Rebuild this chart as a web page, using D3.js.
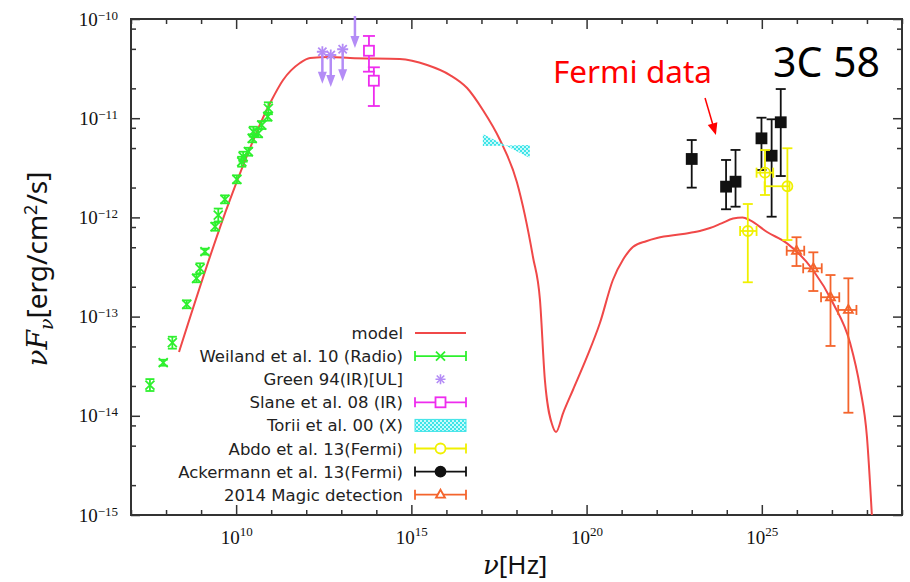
<!DOCTYPE html>
<html>
<head>
<meta charset="utf-8">
<script src="https://cdn.jsdelivr.net/npm/d3@7"></script>
<style>
  body { margin: 0; background: #fff; }
  svg { display: block; }
</style>
</head>
<body>
<svg width="910" height="582"></svg>
<script>
// all values are log10(nu [Hz]) and log10(nuF_nu [erg/cm2/s])

// model curve
const modelLogNu = [8.37, 9.82, 10.97, 11.34, 11.82, 12.11, 12.68, 13.25, 14.67, 15.45, 16.10, 16.59, 17.04, 17.53, 18.01, 18.47, 18.67, 18.81, 19.04, 19.13, 19.33, 19.61, 20.01, 20.38, 20.75, 21.05, 21.32, 21.70, 22.01, 22.75, 23.23, 23.52, 23.85, 24.18, 24.45, 24.67, 25.15, 25.72, 26.46, 27.03, 27.52, 27.80, 28.00, 28.14];
const modelLogF = [-13.357, -11.825, -10.847, -10.615, -10.444, -10.393, -10.383, -10.393, -10.403, -10.464, -10.565, -10.696, -10.917, -11.22, -11.643, -12.399, -12.833, -13.639, -14.113, -14.163, -13.972, -13.74, -13.407, -13.065, -12.631, -12.42, -12.298, -12.24, -12.208, -12.167, -12.137, -12.107, -12.06, -12.012, -12.0, -12.03, -12.147, -12.262, -12.53, -12.863, -13.266, -13.71, -14.214, -15.0];

// Weiland et al. 10 (Radio)
const radioLogNu = [7.54, 7.92, 8.18, 8.59, 8.87, 8.97, 9.11, 9.40, 9.49, 9.68, 10.02, 10.16, 10.20, 10.35, 10.46, 10.49, 10.63, 10.73, 10.90, 10.92];
const radioLogF = [-13.69, -13.465, -13.263, -12.876, -12.614, -12.513, -12.345, -12.094, -11.976, -11.818, -11.616, -11.439, -11.388, -11.338, -11.203, -11.136, -11.152, -11.069, -10.985, -10.900];
const radioErr = [0.06, 0.03, 0.06, 0.04, 0.04, 0.05, 0.03, 0.04, 0.065, 0.04, 0.04, 0.05, 0.05, 0.04, 0.04, 0.05, 0.04, 0.04, 0.04, 0.06];

// Green 94 (IR) upper limits
const greenLogNu = [12.46, 12.70, 13.04, 13.39];
const greenLogF = [-10.33, -10.363, -10.305, -9.97];

// Slane et al. 08 (IR)
const slaneLogNu = [13.79, 13.93];
const slaneLogF = [-10.32, -10.622];
const slaneLogHi = [-10.171, -10.487];
const slaneLogLo = [-10.531, -10.877];

// Torii et al. 00 (X) bow-tie: two power-law edges between nu limits
const toriiLogNu = [17.04, 18.38];
const toriiEdgeA = [-11.159, -11.401];
const toriiEdgeB = [-11.28, -11.27];

// Abdo et al. 13 (Fermi)
const abdoLogNu = [24.60, 25.09, 25.73];
const abdoLogNuLo = [24.38, 24.85, 25.08];
const abdoLogNuHi = [24.85, 25.325, 25.79];
const abdoLogF = [-12.137, -11.549, -11.686];
const abdoLogHi = [-11.865, -11.321, -11.303];
const abdoLogLo = [-12.654, -11.774, -12.228];

// Ackermann et al. 13 (Fermi)
const ackLogNu = [23.0, 23.98, 24.25, 24.99, 25.28, 25.54];
const ackLogF = [-11.411, -11.69, -11.64, -11.203, -11.378, -11.041];
const ackLogHi = [-11.22, -11.421, -11.32, -10.995, -11.011, -10.706];
const ackLogLo = [-11.70, -11.918, -11.892, -11.522, -11.993, -11.583];

// 2014 Magic detection
const magicLogNu = [25.99, 26.47, 26.96, 27.47];
const magicLogNuLo = [25.71, 26.18, 26.69, 27.18];
const magicLogNuHi = [26.21, 26.71, 27.21, 27.70];
const magicLogF = [-12.336, -12.513, -12.805, -12.933];
const magicLogHi = [-12.20, -12.352, -12.581, -12.614];
const magicLogLo = [-12.49, -12.742, -13.296, -13.969];

// axis ticks and legend
const xTickExp = d3.range(7, 30);
const xLabelExp = [10, 15, 20, 25];
const yTickExp = [-15, -14, -13, -12, -11, -10];
const yMinorMant = [2, 5, 8];
const legendLabels = ['model', 'Weiland et al. 10 (Radio)', 'Green 94(IR)[UL]', 'Slane et al. 08 (IR)',
  'Torii et al. 00 (X)', 'Abdo et al. 13(Fermi)', 'Ackermann et al. 13(Fermi)', '2014 Magic detection'];

const col = {
  model: '#f04848', radio: '#2ef02e', green: '#b48cf6', slane: '#ee2cee',
  torii: '#3ee4e8', abdo: '#f0f000', ack: '#111', magic: '#f4642c', frame: '#333'
};

const p = v => Math.pow(10, v);
const L = 131, R = 902, T = 19, B = 515;
const x = d3.scaleLog().domain([1e7, 1e29]).range([L, R]);
const y = d3.scaleLog().domain([1e-15, 1e-10]).range([B, T]);

const svg = d3.select('svg');
const defs = svg.append('defs');
defs.append('clipPath').attr('id', 'clip')
  .append('rect').attr('x', L).attr('y', T).attr('width', R - L).attr('height', B - T);
const pat = defs.append('pattern').attr('id', 'checker').attr('patternUnits', 'userSpaceOnUse')
  .attr('width', 4).attr('height', 4);
pat.append('rect').attr('width', 4).attr('height', 4).attr('fill', col.torii);
pat.append('rect').attr('width', 2).attr('height', 2).attr('fill', '#c8fafa');
pat.append('rect').attr('x', 2).attr('y', 2).attr('width', 2).attr('height', 2).attr('fill', '#c8fafa');

// ---- axes (ticks point inward, mirrored on top/right)
const xTickVals = xTickExp.map(p);
const isXMajor = d => xLabelExp.includes(Math.round(Math.log10(d)));
const yTickVals = [];
yTickExp.forEach(e => {
  yTickVals.push(p(e));
  if (e < -10) yMinorMant.forEach(m => yTickVals.push(m * p(e)));
});
const isYMajor = d => Math.abs(Math.log10(d) - Math.round(Math.log10(d))) < 1e-6;

const gB = svg.append('g').attr('transform', `translate(0,${B})`)
  .call(d3.axisBottom(x).tickValues(xTickVals).tickSizeOuter(0).tickFormat(() => ''));
gB.selectAll('.tick line').attr('y2', d => isXMajor(d) ? -10 : -5);
const gT = svg.append('g').attr('transform', `translate(0,${T})`)
  .call(d3.axisTop(x).tickValues(xTickVals).tickSizeOuter(0).tickFormat(() => ''));
gT.selectAll('.tick line').attr('y2', d => isXMajor(d) ? 10 : 5);
const gL = svg.append('g').attr('transform', `translate(${L},0)`)
  .call(d3.axisLeft(y).tickValues(yTickVals).tickSizeOuter(0).tickFormat(() => ''));
gL.selectAll('.tick line').attr('x2', d => isYMajor(d) ? 9 : 5);
const gR = svg.append('g').attr('transform', `translate(${R},0)`)
  .call(d3.axisRight(y).tickValues(yTickVals).tickSizeOuter(0).tickFormat(() => ''));
gR.selectAll('.tick line').attr('x2', d => isYMajor(d) ? -9 : -5);
svg.selectAll('.domain').remove();
svg.selectAll('.tick line').attr('stroke', col.frame).attr('stroke-width', 1.5);

// tick labels 10^n
gB.selectAll('.tick text').filter(d => isXMajor(d)).each(function (d) {
  const t = d3.select(this).attr('y', 29).attr('dy', null)
    .attr('font-family', 'Liberation Serif').attr('font-size', 19).attr('fill', '#111');
  t.append('tspan').text('10');
  t.append('tspan').attr('dy', -8).attr('font-size', 13).text(Math.round(Math.log10(d)));
});
gL.selectAll('.tick text').filter(d => isYMajor(d)).each(function (d) {
  const t = d3.select(this).attr('x', -13).attr('dy', null).attr('y', 6)
    .attr('font-family', 'Liberation Serif').attr('font-size', 19).attr('fill', '#111');
  t.append('tspan').text('10');
  t.append('tspan').attr('dy', -6).attr('font-size', 13).text('\u2212' + Math.abs(Math.round(Math.log10(d))));
});

svg.append('rect').attr('x', L).attr('y', T).attr('width', R - L).attr('height', B - T)
  .attr('fill', 'none').attr('stroke', col.frame).attr('stroke-width', 2);

// axis titles
const ylab = svg.append('text').attr('transform', 'translate(47,269) rotate(-90)')
  .attr('text-anchor', 'middle').attr('font-size', 28).attr('fill', '#111');
ylab.append('tspan').attr('font-family', 'DejaVu Serif').attr('font-style', 'italic').text('\u03bdF');
ylab.append('tspan').attr('font-family', 'DejaVu Serif').attr('font-style', 'italic')
  .attr('font-size', 19).attr('dy', 6).text('\u03bd');
ylab.append('tspan').attr('font-family', 'Noto Sans').attr('dy', -6).text('[erg/cm');
ylab.append('tspan').attr('font-family', 'Noto Sans').attr('font-size', 18).attr('dy', -10).text('2');
ylab.append('tspan').attr('font-family', 'Noto Sans').attr('dy', 10).text('/s]');

const xlab = svg.append('text').attr('x', 483).attr('y', 574).attr('font-size', 26).attr('fill', '#111');
xlab.append('tspan').attr('font-family', 'DejaVu Serif').attr('font-style', 'italic').text('\u03bd');
xlab.append('tspan').attr('font-family', 'Noto Sans').text('[Hz]');

// ---- plot contents
const plot = svg.append('g').attr('clip-path', 'url(#clip)');

// model
const modelPts = modelLogNu.map((v, i) => [v, modelLogF[i]]);
plot.append('path').datum(modelPts)
  .attr('fill', 'none').attr('stroke', col.model).attr('stroke-width', 2)
  .attr('d', d3.line().x(d => x(p(d[0]))).y(d => y(p(d[1]))).curve(d3.curveMonotoneX));

// Torii bow-tie
const tA = toriiLogNu.map((v, i) => [x(p(v)), y(p(toriiEdgeA[i]))]);
const tB = toriiLogNu.map((v, i) => [x(p(v)), y(p(toriiEdgeB[i]))]);
plot.append('path').attr('d', d3.line()([tA[0], tA[1], tB[1], tB[0]]) + 'Z')
  .attr('fill', 'url(#checker)').attr('fill-rule', 'nonzero');

function vbar(g, cx, y1, y2, cap, color, w) {
  g.append('line').attr('x1', cx).attr('x2', cx).attr('y1', y1).attr('y2', y2);
  [y1, y2].forEach(yy => g.append('line').attr('x1', cx - cap).attr('x2', cx + cap).attr('y1', yy).attr('y2', yy));
  g.attr('stroke', color).attr('stroke-width', w);
}
function hbar(g, cy, x1, x2, cap) {
  g.append('line').attr('x1', x1).attr('x2', x2).attr('y1', cy).attr('y2', cy);
  [x1, x2].forEach(xx => g.append('line').attr('x1', xx).attr('x2', xx).attr('y1', cy - cap).attr('y2', cy + cap));
}
function cross(g, cx, cy, s) {
  g.append('path').attr('d', `M${cx - s},${cy - s}L${cx + s},${cy + s}M${cx - s},${cy + s}L${cx + s},${cy - s}`);
}
function star(g, cx, cy, s) {
  cross(g, cx, cy, s * 0.75);
  g.append('path').attr('d', `M${cx - s},${cy}L${cx + s},${cy}M${cx},${cy - s}L${cx},${cy + s}`);
}

// Weiland radio
radioLogNu.forEach((v, i) => {
  const g = plot.append('g').attr('fill', 'none');
  const cx = x(p(v)), cy = y(p(radioLogF[i]));
  vbar(g, cx, y(p(radioLogF[i] + radioErr[i])), y(p(radioLogF[i] - radioErr[i])), 4.5, col.radio, 1.8);
  cross(g, cx, cy, 4.5);
});

// Green upper limits
const ulg = svg.append('g');
greenLogNu.forEach((v, i) => {
  const cx = x(p(v)), cy = y(p(greenLogF[i]));
  const g = ulg.append('g').attr('stroke', col.green).attr('fill', col.green);
  g.append('line').attr('x1', cx).attr('x2', cx).attr('y1', cy).attr('y2', cy + 22).attr('stroke-width', 2.5);
  g.append('path').attr('d', `M${cx - 4.5},${cy + 20}L${cx + 4.5},${cy + 20}L${cx},${cy + 32}Z`).attr('stroke', 'none');
  if (greenLogF[i] <= -10) star(g.attr('stroke-width', 1.8), cx, cy, 5.5);
});

// Slane
slaneLogNu.forEach((v, i) => {
  const g = plot.append('g').attr('fill', 'none');
  const cx = x(p(v)), cy = y(p(slaneLogF[i]));
  vbar(g, cx, y(p(slaneLogHi[i])), y(p(slaneLogLo[i])), 6, col.slane, 1.8);
  g.append('rect').attr('x', cx - 5).attr('y', cy - 5).attr('width', 10).attr('height', 10).attr('fill', '#fff');
});

// Ackermann
ackLogNu.forEach((v, i) => {
  const g = plot.append('g');
  const cx = x(p(v)), cy = y(p(ackLogF[i]));
  vbar(g, cx, y(p(ackLogHi[i])), y(p(ackLogLo[i])), 5, col.ack, 1.8);
  g.append('rect').attr('x', cx - 5).attr('y', cy - 5).attr('width', 10).attr('height', 10).attr('fill', col.ack);
});

// Abdo
abdoLogNu.forEach((v, i) => {
  const g = plot.append('g').attr('fill', 'none');
  const cx = x(p(v)), cy = y(p(abdoLogF[i]));
  vbar(g, cx, y(p(abdoLogHi[i])), y(p(abdoLogLo[i])), 5, col.abdo, 1.8);
  hbar(g, cy, x(p(abdoLogNuLo[i])), x(p(abdoLogNuHi[i])), 5);
  g.append('circle').attr('cx', cx).attr('cy', cy).attr('r', 5);
});

// Magic
magicLogNu.forEach((v, i) => {
  const g = plot.append('g').attr('fill', 'none');
  const cx = x(p(v)), cy = y(p(magicLogF[i]));
  vbar(g, cx, y(p(magicLogHi[i])), y(p(magicLogLo[i])), 5, col.magic, 1.8);
  hbar(g, cy, x(p(magicLogNuLo[i])), x(p(magicLogNuHi[i])), 5);
  g.append('path').attr('d', `M${cx},${cy - 5}L${cx + 4.5},${cy + 3}L${cx - 4.5},${cy + 3}Z`);
});

// ---- legend
const lg = svg.append('g');
const lx0 = 415, lx1 = 466, lmid = 440.5;
legendLabels.forEach((lab, i) => {
  const cy = 333 + i * 23.1;
  lg.append('text').attr('x', 403).attr('y', cy + 6).attr('text-anchor', 'end')
    .attr('font-family', 'DejaVu Sans').attr('font-size', 16.5).attr('fill', '#222').text(lab);
  const g = lg.append('g').attr('fill', 'none');
  if (i === 0) {
    g.append('line').attr('x1', lx0).attr('x2', lx1).attr('y1', cy).attr('y2', cy)
      .attr('stroke', col.model).attr('stroke-width', 2);
  } else if (i === 2) {
    star(g.attr('stroke', col.green).attr('stroke-width', 1.6), lmid, cy, 5);
  } else if (i === 4) {
    g.append('rect').attr('x', lx0).attr('y', cy - 6).attr('width', lx1 - lx0).attr('height', 12)
      .attr('fill', 'url(#checker)').attr('stroke', col.torii).attr('stroke-width', 1);
  } else {
    const c = [null, col.radio, null, col.slane, null, col.abdo, col.ack, col.magic][i];
    g.attr('stroke', c).attr('stroke-width', 1.8);
    hbar(g, cy, lx0, lx1, 5);
    if (i === 1) cross(g, lmid, cy, 4.5);
    if (i === 3) g.append('rect').attr('x', lmid - 5).attr('y', cy - 5).attr('width', 10).attr('height', 10).attr('fill', '#fff');
    if (i === 5) g.append('circle').attr('cx', lmid).attr('cy', cy).attr('r', 5).attr('fill', '#fff');
    if (i === 6) g.append('circle').attr('cx', lmid).attr('cy', cy).attr('r', 5).attr('fill', col.ack);
    if (i === 7) g.append('path').attr('d', `M${lmid},${cy - 5}L${lmid + 4.5},${cy + 3}L${lmid - 4.5},${cy + 3}Z`).attr('fill', '#fff');
  }
});

// ---- annotations
svg.append('text').attr('x', 773).attr('y', 77).attr('font-family', 'Noto Sans')
  .attr('font-size', 41).attr('fill', '#000').text('3C 58');
svg.append('text').attr('x', 553).attr('y', 83).attr('font-family', 'Noto Sans')
  .attr('font-size', 31.5).attr('fill', '#ff0000').text('Fermi data');
const ax0 = x(p(23.38)), ay0 = y(p(-10.796)), ax1 = x(p(23.69)), ay1 = y(p(-11.17));
const ang = Math.atan2(ay1 - ay0, ax1 - ax0);
svg.append('line').attr('x1', ax0).attr('y1', ay0)
  .attr('x2', ax1 - 10 * Math.cos(ang)).attr('y2', ay1 - 10 * Math.sin(ang))
  .attr('stroke', '#ff0000').attr('stroke-width', 1.5);
const hx = ax1 - 12 * Math.cos(ang), hy = ay1 - 12 * Math.sin(ang);
svg.append('path').attr('fill', '#ff0000')
  .attr('d', `M${ax1},${ay1}L${hx - 5 * Math.sin(ang)},${hy + 5 * Math.cos(ang)}L${hx + 5 * Math.sin(ang)},${hy - 5 * Math.cos(ang)}Z`);
</script>
</body>
</html>
